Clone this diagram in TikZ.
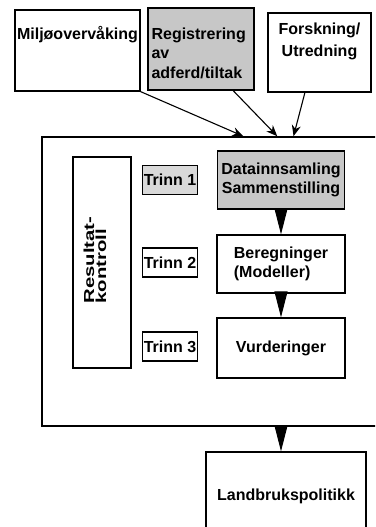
\documentclass[tikz,border=0pt]{standalone}
\usepackage{fontspec}
\setmainfont{Liberation Sans}
\usepackage{graphicx}
\usetikzlibrary{arrows.meta,positioning,calc}

\begin{document}
\begin{tikzpicture}[x=1pt, y=-1pt,
    box/.style={draw, line width=1.3pt, inner sep=0pt, font=\fontsize{16}{19}\selectfont\bfseries},
    shaded/.style={fill=black!22},
    txt/.style={inner sep=0pt, font=\fontsize{16}{19.5}\selectfont\bfseries},
    stage/.style={draw, line width=1.1pt, inner sep=0pt, minimum width=55pt, minimum height=29pt, font=\fontsize{16}{18}\selectfont\bfseries},
    arrow/.style={-{Stealth[length=11pt, width=9pt]}, line width=1.1pt},
    flow/.style={-{Triangle[length=26pt, width=13pt]}, line width=1pt}
]
\clip (0,0) rectangle (375,527);

% Sources
\node[box, minimum width=125pt, minimum height=81pt] (mon) at (77.5,50.5) {};
\node[txt, below=17pt of mon.north] (montxt) {Miljøovervåking};
\node[box, shaded, minimum width=106pt, minimum height=82pt] (reg) at (201,49) {};
\node[txt, align=left, anchor=north west] (regtxt) at ([xshift=4pt, yshift=-20pt]reg.north west) {Registrering\\av\\adferd/tiltak};
\node[box, minimum width=103pt, minimum height=79pt] (fou) at (319.5,52.5) {};
\node[txt, align=center, below=10pt of fou.north] (foutxt) {Forskning/\\[3pt]Utredning};

% Main frame
\node[draw, line width=1.6pt, minimum width=338pt, minimum height=289pt] (main) at (211,281.5) {};

\draw[arrow] (mon.south east) -- ($(main.north west)!0.595!(main.north east)$);
\draw[arrow] ($(reg.south west)!0.8!(reg.south east)$) -- ($(main.north west)!0.695!(main.north east)$);
\draw[arrow] ($(fou.south west)!0.36!(fou.south east)$) -- ($(main.north west)!0.743!(main.north east)$);

% Control column
\node[box, minimum width=58pt, minimum height=211pt] (ctl) at (102,262.5) {};
\node[inner sep=0pt, rotate=90, align=left, font=\fontsize{14.5}{12}\selectfont\bfseries] (ctltxt) at (95,260)
    {\scalebox{1.4}[1]{Resultat-}\\\scalebox{1.4}[1]{kontroll}};

% Stages
\node[stage, fill=black!15] (t1) at (170,180) {Trinn 1};
\node[stage] (t2) at (170,262.5) {Trinn 2};
\node[stage] (t3) at (170,346.5) {Trinn 3};

\node[box, shaded, align=center, minimum width=127pt, minimum height=58pt] (dat) at (281,180) {Datainnsamling\\Sammenstilling};
\node[box, align=left, minimum width=128pt, minimum height=58pt] (ber) at (281,264) {Beregninger\\(Modeller)};
\node[box, minimum width=128pt, minimum height=60pt] (vur) at (281,348) {Vurderinger};

\draw[flow] (dat.south) -- (ber.north);
\draw[flow] (ber.south) -- (vur.north);

% Result
\node[box, minimum width=160pt, minimum height=88pt] (lbp) at (286,496) {Landbrukspolitikk};
\draw[flow] (main.south -| dat.south) -- (lbp.north -| dat.south);
\end{tikzpicture}
\end{document}
